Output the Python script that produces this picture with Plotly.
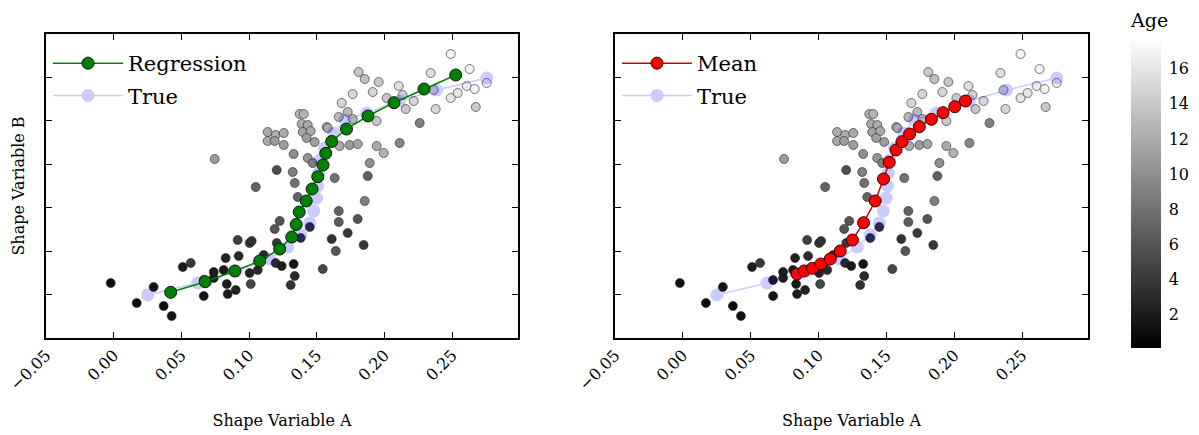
import plotly.graph_objects as go

# ---------------- data ----------------
scatter_x = [-0.0022, 0.0170, 0.0295, 0.0369, 0.0428, 0.0510, 0.0569, 0.0665, 0.0739, 0.0812,
             0.0827, 0.0916, 0.0923, 0.1004, 0.1019, 0.0835, 0.0842, 0.0901, 0.1004, 0.1012,
             0.1064, 0.1108, 0.1196, 0.1241, 0.1204, 0.1189, 0.1226, 0.1329, 0.1337, 0.1307,
             0.1544, 0.1381, 0.1448, 0.1610, 0.1662, 0.1662, 0.1640, 0.1728, 0.1802, 0.1854,
             0.1846, 0.1049, 0.1337, 0.1359, 0.0746, 0.1204, 0.1322, 0.1137, 0.1196, 0.1256,
             0.1137, 0.1189, 0.1256, 0.1329, 0.1433, 0.1374, 0.1403, 0.1388, 0.1433, 0.1396,
             0.1455, 0.1425, 0.1484, 0.1573, 0.1470, 0.2489, 0.2629, 0.2341, 0.1809, 0.1854,
             0.1957, 0.1765, 0.1913, 0.2105, 0.1684, 0.2016, 0.2134, 0.2216, 0.2157, 0.2378,
             0.2489, 0.2541, 0.2607, 0.2666, 0.2755, 0.2674, 0.2363, 0.1662, 0.1728, 0.1765,
             0.1942, 0.2260, 0.1581, 0.1669, 0.1743, 0.1802, 0.1942, 0.1994, 0.2112, 0.1891,
             0.1876, 0.1632, 0.0665, 0.0739]
scatter_y = [1.266, 0.806, 1.174, 0.737, 0.507, 1.635, 1.727, 0.967, 1.520, 1.566,
             1.842, 2.257, 1.888, 2.187, 2.233, 1.243, 1.013, 1.105, 1.497, 1.243,
             1.566, 1.911, 1.727, 1.658, 2.187, 2.510, 2.694, 1.704, 1.428, 1.220,
             1.589, 2.303, 2.556, 2.280, 2.924, 2.671, 2.003, 2.418, 2.740, 3.155,
             2.141, 3.477, 3.569, 3.247, 4.122, 3.868, 3.822, 4.743, 4.674, 4.720,
             4.536, 4.536, 4.444, 4.237, 4.145, 5.158, 5.158, 4.927, 4.904, 4.743,
             4.766, 4.605, 4.513, 4.858, 4.029, 6.539, 6.194, 6.102, 6.125, 5.964,
             5.895, 5.618, 5.664, 5.802, 5.411, 5.526, 5.595, 5.457, 5.273, 5.273,
             5.526, 5.641, 5.802, 5.733, 5.872, 5.319, 5.710, 5.089, 5.204, 5.043,
             4.997, 4.950, 4.835, 4.421, 4.444, 4.467, 4.421, 4.260, 4.490, 4.029,
             3.730, 3.684, 1.335, 1.382]
scatter_age = [1, 1, 1.5, 1, 1.5, 2, 4, 1.5, 2, 2,
               2.5, 4.5, 3, 4, 3.5, 2, 2, 2.5, 2.5, 5,
               3, 3, 3, 2, 4, 6, 6, 1.5, 3, 3.5,
               5, 3.5, 3.5, 3.5, 7, 6.5, 6, 4, 6, 9,
               4, 7, 8, 7, 11, 5.5, 9, 12, 12, 12,
               12, 11, 11, 10, 10.5, 12.5, 12.5, 12, 12, 11.5,
               12, 11, 11, 13, 9, 17, 17, 15.5, 14, 13.5,
               14, 15, 15, 15.5, 15, 14, 14.5, 15, 14, 15,
               16, 16, 16.5, 17, 17, 14, 15, 13, 13, 13,
               14, 9, 12, 12, 11, 11.5, 12, 12.5, 9.5, 10,
               7, 8, 2, 2]

regression_x = [0.0421, 0.0676, 0.0894, 0.1078, 0.1226, 0.1315, 0.1348, 0.1370, 0.1422, 0.1465,
                0.1507, 0.1546, 0.1566, 0.1610, 0.1719, 0.1878, 0.2070, 0.2292, 0.2526]
regression_y = [1.052, 1.296, 1.543, 1.773, 2.049, 2.326, 2.613, 2.901, 3.155, 3.431,
                3.714, 3.983, 4.253, 4.525, 4.812, 5.112, 5.418, 5.733, 6.056]

mean_x = [0.0842, 0.0894, 0.0955, 0.1017, 0.1086, 0.1160, 0.1250, 0.1332, 0.1418, 0.1479,
          0.1521, 0.1571, 0.1615, 0.1671, 0.1743, 0.1832, 0.1918, 0.2004, 0.2083]
mean_y = [1.474, 1.543, 1.605, 1.704, 1.819, 2.003, 2.256, 2.655, 3.155, 3.661,
          4.046, 4.329, 4.520, 4.697, 4.865, 5.036, 5.188, 5.326, 5.457]

true_x = [0.0251, 0.0620, 0.0908, 0.1152, 0.1285, 0.1381, 0.1448, 0.1477, 0.1499, 0.1507,
          0.1514, 0.1521, 0.1558, 0.1625, 0.1706, 0.1869, 0.2112, 0.2386, 0.2755]
true_y = [0.990, 1.266, 1.543, 1.819, 2.095, 2.372, 2.648, 2.924, 3.224, 3.500,
          3.799, 4.099, 4.375, 4.720, 5.020, 5.181, 5.457, 5.710, 5.987]

x_ticks = [-0.05, 0.00, 0.05, 0.10, 0.15, 0.20, 0.25]
y_ticks = [1, 2, 3, 4, 5, 6]
age_ticks = [2, 4, 6, 8, 10, 12, 14, 16]

# ---------------- figure ----------------
W, H = 1199, 435
FONT = "DejaVu Serif"

def px_x(p):
    return p / W

def px_y(p):
    return 1 - p / H

fig = go.Figure()

for xa, ya in [("x", "y"), ("x2", "y2")]:
    fig.add_trace(go.Scatter(
        x=scatter_x, y=scatter_y, xaxis=xa, yaxis=ya, mode="markers",
        marker=dict(size=9, color=scatter_age, coloraxis="coloraxis",
                    line=dict(width=0.6, color="#222222")),
        showlegend=False, hoverinfo="skip"))

# Left: True + Regression
fig.add_trace(go.Scatter(
    x=true_x, y=true_y, xaxis="x", yaxis="y", mode="lines+markers", name="True",
    line=dict(color="blue", width=1.5), marker=dict(size=13, color="blue"),
    opacity=0.2, legend="legend", legendrank=2, legendgroup="t1"))
fig.add_trace(go.Scatter(
    x=regression_x, y=regression_y, xaxis="x", yaxis="y", mode="lines+markers", name="Regression",
    line=dict(color="#008000", width=1.5),
    marker=dict(size=12, color="#008000", line=dict(width=1, color="#0a1a0a")),
    legend="legend", legendrank=1, legendgroup="r1"))

# Right: True + Mean
fig.add_trace(go.Scatter(
    x=true_x, y=true_y, xaxis="x2", yaxis="y2", mode="lines+markers", name="True",
    line=dict(color="blue", width=1.5), marker=dict(size=13, color="blue"),
    opacity=0.2, legend="legend2", legendrank=2, legendgroup="t2"))
fig.add_trace(go.Scatter(
    x=mean_x, y=mean_y, xaxis="x2", yaxis="y2", mode="lines+markers", name="Mean",
    line=dict(color="#cc0000", width=1.5),
    marker=dict(size=12, color="#ff0000", line=dict(width=1, color="#330000")),
    legend="legend2", legendrank=1, legendgroup="m2"))

axis_common = dict(showgrid=False, zeroline=False, showline=True, linecolor="black",
                   linewidth=1.5, mirror="allticks", ticks="inside", ticklen=6,
                   tickcolor="black", tickwidth=1, automargin=False)

xdom1 = [px_x(46), px_x(518)]
xdom2 = [px_x(615), px_x(1088)]
ydom = [px_y(338), px_y(34)]

xcommon = dict(axis_common, range=[-0.05, 0.2986], tickvals=x_ticks, tickformat=".2f",
               tickangle=-45, tickfont=dict(family=FONT, size=16, color="black"),
               title=dict(text="Shape Variable A", font=dict(family=FONT, size=16, color="black"),
                          standoff=22))
ycommon = dict(axis_common, range=[0, 7], tickvals=y_ticks, showticklabels=False)

legend_common = dict(xanchor="left", yanchor="top", bgcolor="rgba(255,255,255,0)",
                     font=dict(family=FONT, size=21, color="black"),
                     itemwidth=70, tracegroupgap=2)

fig.update_layout(
    width=W, height=H,
    margin=dict(l=0, r=0, t=0, b=0),
    paper_bgcolor="white", plot_bgcolor="white",
    font=dict(family=FONT, color="black"),
    xaxis=dict(xcommon, domain=xdom1, anchor="y"),
    yaxis=dict(ycommon, domain=ydom, anchor="x",
               title=dict(text="Shape Variable B", font=dict(family=FONT, size=16, color="black"),
                          standoff=16)),
    xaxis2=dict(xcommon, domain=xdom2, anchor="y2"),
    yaxis2=dict(ycommon, domain=ydom, anchor="x2"),
    coloraxis=dict(
        cmin=0.1, cmax=17.8,
        colorscale=[[0, "black"], [1, "white"]],
        colorbar=dict(
            x=px_x(1131), xanchor="left", xpad=0, ypad=0,
            y=px_y(348), yanchor="bottom",
            thickness=30, thicknessmode="pixels",
            len=338, lenmode="pixels",
            outlinewidth=0,
            tickvals=age_ticks, ticks="outside", ticklen=5,
            tickcolor="rgba(0,0,0,0)",
            tickfont=dict(family=FONT, size=16, color="black"),
            title=dict(text="Age", side="top", font=dict(family=FONT, size=19, color="black")),
        )),
    legend=dict(legend_common, x=px_x(48), y=px_y(43)),
    legend2=dict(legend_common, x=px_x(617), y=px_y(43)),
)

fig.write_html("out.html")
